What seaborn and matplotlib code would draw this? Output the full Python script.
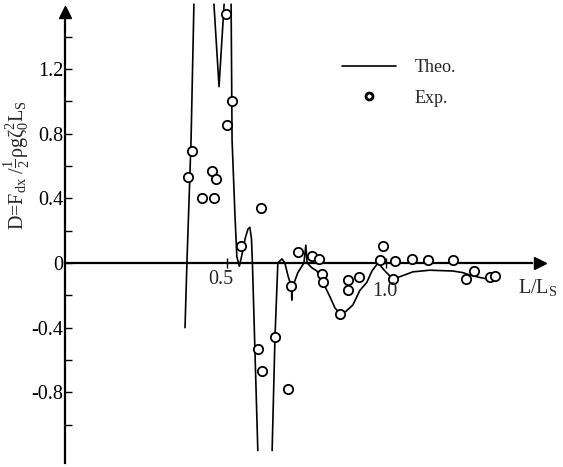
import numpy as np
import pandas as pd
import matplotlib
matplotlib.use('Agg')
import matplotlib.pyplot as plt
from matplotlib.lines import Line2D
import seaborn as sns

# --- data ---
# theoretical curve, split into segments where it leaves the plot
theo_seg = [1, 1, 1, 1,
            2, 2, 2,
            3, 3, 3, 3, 3, 3, 3, 3, 3, 3, 3, 3,
            4, 4, 4, 4, 4, 4, 4, 4, 4, 4, 4, 4, 4, 4, 4, 4, 4, 4, 4, 4, 4, 4,
            4, 4, 4, 4, 4, 4, 4, 4, 4, 4, 4, 4, 4, 4]
theo_x = [0.368, 0.374, 0.387, 0.396,
          0.459, 0.475, 0.491,
          0.513, 0.516, 0.525, 0.531, 0.539, 0.547, 0.557, 0.566, 0.572, 0.577, 0.580, 0.597,
          0.642, 0.651, 0.660, 0.673, 0.682, 0.692, 0.703, 0.704, 0.706, 0.723, 0.742, 0.748,
          0.752, 0.767, 0.783, 0.802, 0.824, 0.840, 0.855, 0.874, 0.896, 0.918, 0.940, 0.956,
          0.975, 0.997, 1.022, 1.044, 1.085, 1.138, 1.211, 1.242, 1.264, 1.296, 1.321, 1.343]
theo_y = [-0.40, 0.0, 0.76, 1.60,
          1.60, 1.09, 1.60,
          1.60, 0.76, 0.30, 0.04, -0.02, 0.05, 0.15, 0.21, 0.22, 0.15, 0.0, -1.16,
          -1.16, -0.46, 0.0, 0.025, 0.0, -0.08, -0.15, -0.23, -0.15, -0.06, 0.0, 0.11,
          0.0, -0.03, -0.05, -0.12, -0.21, -0.28, -0.31, -0.30, -0.26, -0.17, -0.12, -0.05,
          0.0, -0.05, -0.10, -0.085, -0.055, -0.045, -0.05, -0.06, -0.075, -0.09, -0.10, -0.085]

# experimental points
exp_x = [0.497, 0.516, 0.500, 0.390, 0.377, 0.453, 0.465, 0.421, 0.459, 0.607,
         0.544, 0.597, 0.610, 0.651, 0.692, 0.701, 0.723, 0.767, 0.789, 0.799,
         0.802, 0.881, 0.881, 0.915, 0.855, 0.991, 0.981, 1.028, 1.022, 1.082,
         1.132, 1.211, 1.252, 1.277, 1.327, 1.343]
exp_y = [1.54, 1.00, 0.85, 0.69, 0.53, 0.57, 0.52, 0.40, 0.40, 0.34,
         0.105, -0.53, -0.67, -0.46, -0.78, -0.14, 0.07, 0.04, 0.025, -0.07,
         -0.12, -0.105, -0.17, -0.087, -0.315, 0.105, 0.02, 0.012, -0.10, 0.025,
         0.02, 0.02, -0.10, -0.05, -0.09, -0.08]

y_ticks_major = [-0.8, -0.4, 0.0, 0.4, 0.8, 1.2]
y_tick_labels = ['-0.8', '-0.4', '0', '0.4', '0.8', '1.2']
y_ticks_minor = [-1.0, -0.6, -0.2, 0.2, 0.6, 1.0, 1.4]
x_ticks = [0.5, 1.0]
x_tick_labels = ['0.5', '1.0']

theo = pd.DataFrame({'x': theo_x, 'y': theo_y, 'seg': theo_seg})
exp = pd.DataFrame({'x': exp_x, 'y': exp_y})

# --- style ---
sns.set_theme(style='white')
plt.rcParams['font.family'] = ['Liberation Serif', 'DejaVu Serif']
plt.rcParams['mathtext.fontset'] = 'custom'
plt.rcParams['mathtext.rm'] = 'Liberation Serif'
plt.rcParams['mathtext.it'] = 'Liberation Serif:italic'
plt.rcParams['axes.unicode_minus'] = False

fig = plt.figure(figsize=(5.63, 4.67), dpi=100)
ax = fig.add_axes([0, 0, 1, 1])
ax.patch.set_alpha(0)

sns.lineplot(data=theo, x='x', y='y', units='seg', estimator=None, sort=False,
             color='black', lw=1.2, ax=ax, legend=False)
sns.scatterplot(data=exp, x='x', y='y', marker='o', s=45, facecolor='white',
                edgecolor='black', linewidth=1.3, ax=ax, zorder=3, legend=False)

ax.set_xlim(-0.214, 1.557)
ax.set_ylim(-1.262, 1.626)

# axes drawn through the origin with arrows
for side in ['top', 'right']:
    ax.spines[side].set_visible(False)
ax.spines['left'].set_position(('data', -0.01))
ax.spines['bottom'].set_position(('data', 0))
ax.spines['left'].set_bounds(-1.24, 1.52)
ax.spines['bottom'].set_bounds(-0.01, 1.46)
for side in ['left', 'bottom']:
    ax.spines[side].set_linewidth(1.6)
    ax.spines[side].set_color('black')
ax.plot([-0.01], [1.55], marker='^', color='black', ms=8, clip_on=False)
ax.plot([1.484], [0], marker='>', color='black', ms=8, clip_on=False)

ax.set_yticks(y_ticks_major)
ax.set_yticklabels(y_tick_labels)
ax.set_yticks(y_ticks_minor, minor=True)
ax.tick_params(axis='y', which='both', direction='in', length=5, width=1,
               left=True, pad=1, labelsize=14.5, colors='black')
ax.set_xticks(x_ticks)
ax.set_xticklabels([])
ax.tick_params(axis='x', which='major', direction='inout', length=7, width=1,
               bottom=True, colors='black')
ax.text(0.48, -0.10, x_tick_labels[0], fontsize=14.5, ha='center', va='center')
ax.text(0.997, -0.175, x_tick_labels[1], fontsize=14.5, ha='center', va='center')
ax.set_xlabel('')
ax.set_ylabel('')

fig.text(518 / 563, 1 - 288 / 467, r'L/L$_{\mathrm{S}}$', fontsize=14.5,
         ha='left', va='center')
fig.text(17 / 563, 1 - 165 / 467,
         r'D=F$_{\mathrm{dx}}$ /$\frac{1}{2}$ρgζ$_{0}^{2}$L$_{\mathrm{S}}$',
         fontsize=14.5, rotation=90, ha='center', va='center')

handles = [Line2D([], [], color='black', lw=1.2),
           Line2D([], [], color='black', lw=0, marker='o', ms=5,
                  markerfacecolor='white', markeredgewidth=2)]
ax.legend(handles, ['Theo.', 'Exp.'], loc='upper left',
          bbox_to_anchor=(333 / 563, 1 - 50 / 467), bbox_transform=fig.transFigure,
          frameon=False, fontsize=13, handlelength=3.0, handletextpad=1.0,
          labelspacing=0.75, borderpad=0)

fig.savefig('out.png', dpi=100)
